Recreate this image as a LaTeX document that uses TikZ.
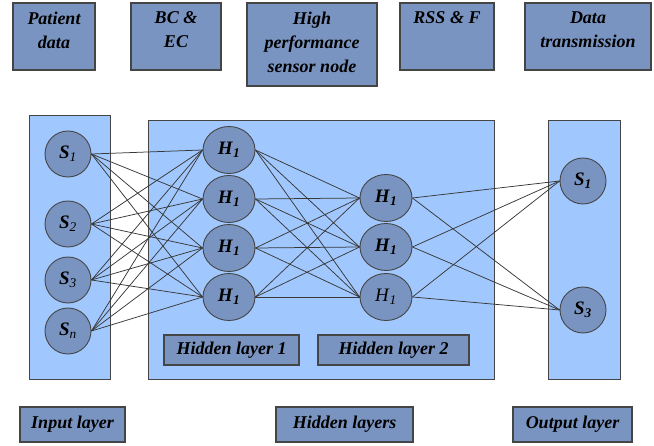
\documentclass[tikz,border=0pt]{standalone}
\usepackage{fontspec}
\setmainfont{Liberation Serif}
\usetikzlibrary{shapes.geometric}
\definecolor{boxfill}{HTML}{7A94C1}
\definecolor{layerfill}{HTML}{A1C8FE}
\definecolor{edgecol}{HTML}{383838}
\definecolor{rim}{HTML}{454545}
\newcommand{\unitB}[2]{\textbf{\textit{#1}}\textsubscript{\textbf{\textit{#2}}}}
\newcommand{\unitI}[2]{\textbf{\textit{#1}}\textsubscript{\textit{#2}}}
\newcommand{\unitP}[2]{\textit{#1}\textsubscript{\textit{#2}}}
\begin{document}
\begin{tikzpicture}[x=1pt,y=-1pt,
  box/.style={draw=rim, line width=1.1pt, fill=boxfill, inner sep=0pt},
  layer/.style={draw=rim, line width=0.9pt, fill=layerfill, inner sep=0pt},
  inunit/.style={circle, draw=rim, line width=0.9pt, fill=boxfill, inner sep=0pt, minimum size=46pt,
    font=\fontsize{19}{20}\selectfont},
  hunit/.style={ellipse, draw=rim, line width=0.9pt, fill=boxfill, inner sep=0pt,
    minimum width=52pt, minimum height=47pt, font=\fontsize{19}{20}\selectfont},
  lbl/.style={font=\fontsize{18}{24}\selectfont\bfseries\itshape, align=center, inner sep=0pt},
  link/.style={draw=edgecol, line width=0.75pt}]
\useasboundingbox (0,0) rectangle (654,446);

% top row of processing stages
\node[box, minimum width=82pt, minimum height=67pt] (pat) at (54,36.5) {};
\node[lbl, anchor=north] (patT) at ([yshift=-9pt]pat.north) {Patient\\data};
\node[box, minimum width=90pt, minimum height=67pt] (bcec) at (176,36.5) {};
\node[lbl, anchor=north] (bcecT) at ([yshift=-9pt]bcec.north) {BC \&\\EC};
\node[box, minimum width=130pt, minimum height=83pt] (hpsn) at (312,44.5) {};
\node[lbl, anchor=north] (hpsnT) at ([yshift=-9pt]hpsn.north) {High\\performance\\sensor node};
\node[box, minimum width=94pt, minimum height=67pt] (rss) at (447,36.5) {};
\node[lbl, anchor=north] (rssT) at ([yshift=-9pt]rss.north) {RSS \& F};
\node[box, minimum width=126pt, minimum height=67pt] (dtx) at (588,36.5) {};
\node[lbl, anchor=north] (dtxT) at ([yshift=-9pt]dtx.north) {Data\\transmission};

% layer panels
\node[layer, minimum width=81pt, minimum height=264pt] (inL) at (70,247) {};
\node[layer, minimum width=346pt, minimum height=259pt] (hidL) at (321,249.5) {};
\node[layer, minimum width=72pt, minimum height=259pt] (outL) at (584,249.5) {};

\node[box, minimum width=135pt, minimum height=30pt] (hl1) at (231.5,350) {};
\node[lbl] (hl1T) at (hl1) {Hidden layer 1};
\node[box, minimum width=151pt, minimum height=30pt] (hl2) at (393.5,350) {};
\node[lbl] (hl2T) at (hl2) {Hidden layer 2};

% neurons
\node[inunit] (s1) at (68,154) {\unitI{S}{1}};
\node[inunit] (s2) at (68,224) {\unitI{S}{2}};
\node[inunit] (s3) at (68,280) {\unitI{S}{3}};
\node[inunit] (sn) at (68,331) {\unitI{S}{n}};

\node[hunit] (ha) at (229,150) {\unitB{H}{1}};
\node[hunit] (hb) at (229,199) {\unitB{H}{1}};
\node[hunit] (hc) at (229,248) {\unitB{H}{1}};
\node[hunit] (hd) at (229,297) {\unitB{H}{1}};

\node[hunit] (ga) at (386,198) {\unitB{H}{1}};
\node[hunit] (gb) at (386,247) {\unitB{H}{1}};
\node[hunit] (gc) at (386,297) {\unitP{H}{1}};

\node[inunit] (o1) at (583,181) {\unitB{S}{1}};
\node[inunit] (o3) at (583,310) {\unitB{S}{3}};

% fully connected links between consecutive layers
\foreach \s in {s1,s2,s3,sn}
  \foreach \h in {ha,hb,hc,hd}
    \draw[link] (\s.east) -- (\h.west);
\foreach \h in {ha,hb,hc,hd}
  \foreach \g in {ga,gb,gc}
    \draw[link] (\h.east) -- (\g.west);
\foreach \g in {ga,gb,gc}
  \foreach \o in {o1,o3}
    \draw[link] (\g.east) -- (\o.west);

% bottom captions
\node[box, minimum width=105pt, minimum height=35pt] (inC) at (72.5,424.5) {};
\node[lbl] (inCT) at (inC) {Input layer};
\node[box, minimum width=137pt, minimum height=35pt] (hidC) at (344.5,424.5) {};
\node[lbl] (hidCT) at (hidC) {Hidden layers};
\node[box, minimum width=119pt, minimum height=35pt] (outC) at (572.5,424.5) {};
\node[lbl] (outCT) at (outC) {Output layer};
\end{tikzpicture}
\end{document}
